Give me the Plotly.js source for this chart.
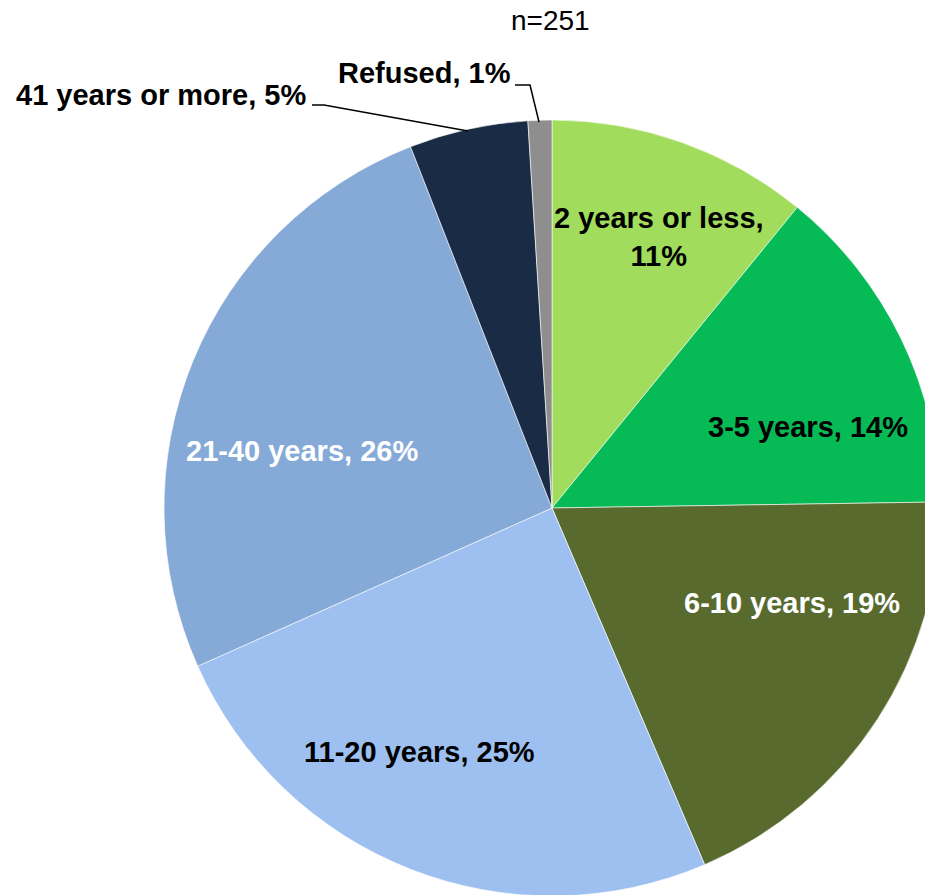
<!DOCTYPE html>
<html>
<head>
<meta charset="utf-8">
<script src="https://cdn.plot.ly/plotly-3.0.1.min.js"></script>
<style>
  html, body { margin: 0; padding: 0; overflow: hidden; background: #fff; }
  #PieChart { width: 950px; height: 900px; }
</style>
</head>
<body>
<div id="PieChart"></div>
<script>
var categories = ['2 years or less', '3-5 years', '6-10 years', '11-20 years',
                  '21-40 years', '41 years or more', 'Refused'];
var shares = [11, 14, 19, 25, 26, 5, 1];
var sliceColors = ['#A2DC5C', '#06BA56', '#586A2E', '#9DC0F1', '#86AAD7', '#1A2C45', '#8E8E8E'];
var sampleSize = 251;

var W = 950, H = 900;
// pixel -> paper helpers
function px(x) { return x / W; }
function py(y) { return 1 - y / H; }

loadChart();
function loadChart() {

  var pie = {
    type: 'pie',
    values: shares,
    labels: categories,
    sort: false,
    direction: 'clockwise',
    rotation: 0,
    textinfo: 'none',
    hoverinfo: 'skip',
    marker: {
      colors: sliceColors,
      line: { color: 'rgba(255,255,255,0.6)', width: 1 }
    },
    domain: { x: [px(164), px(940)], y: [py(896), py(120)] },
    showlegend: false
  };

  // label text boxes (centre of each label, in pixels)
  var spots = [
    { x: 659, y: 237, c: '#000', br: true },
    { x: 808, y: 427, c: '#000' },
    { x: 792, y: 603, c: '#fff' },
    { x: 419, y: 752, c: '#000' },
    { x: 302, y: 451, c: '#fff' },
    { x: 161, y: 95, c: '#000' },
    { x: 424, y: 73, c: '#000' }
  ];

  var notes = categories.map(function (name, i) {
    var s = spots[i];
    var txt = name + ',' + (s.br ? '<br>' : ' ') + shares[i] + '%';
    return {
      xref: 'paper', yref: 'paper',
      x: px(s.x), y: py(s.y),
      xanchor: 'center', yanchor: 'middle',
      text: '<b>' + txt + '</b>',
      showarrow: false,
      font: { family: 'Liberation Sans, Arial, sans-serif', size: 29, color: s.c }
    };
  });

  notes.push({
    xref: 'paper', yref: 'paper',
    x: px(550), y: py(20),
    xanchor: 'center', yanchor: 'middle',
    text: 'n=' + sampleSize,
    showarrow: false,
    font: { family: 'Liberation Sans, Arial, sans-serif', size: 28, color: '#000' }
  });

  function path(pts) {
    return pts.map(function (p, i) {
      return (i ? 'L ' : 'M ') + px(p[0]) + ' ' + py(p[1]);
    }).join(' ');
  }

  var leaders = [
    [[312, 105], [324, 105], [468, 131]],
    [[515, 85], [530, 85], [539, 122]]
  ].map(function (pts) {
    return {
      type: 'path', xref: 'paper', yref: 'paper',
      path: path(pts),
      line: { color: '#000', width: 1.5 }
    };
  });

  var layout = {
    width: W,
    height: H,
    margin: { l: 0, r: 0, t: 0, b: 0 },
    paper_bgcolor: '#fff',
    annotations: notes,
    shapes: leaders
  };

  Plotly.newPlot('PieChart', [pie], layout, { displayModeBar: false, staticPlot: true });
}
</script>
</body>
</html>
